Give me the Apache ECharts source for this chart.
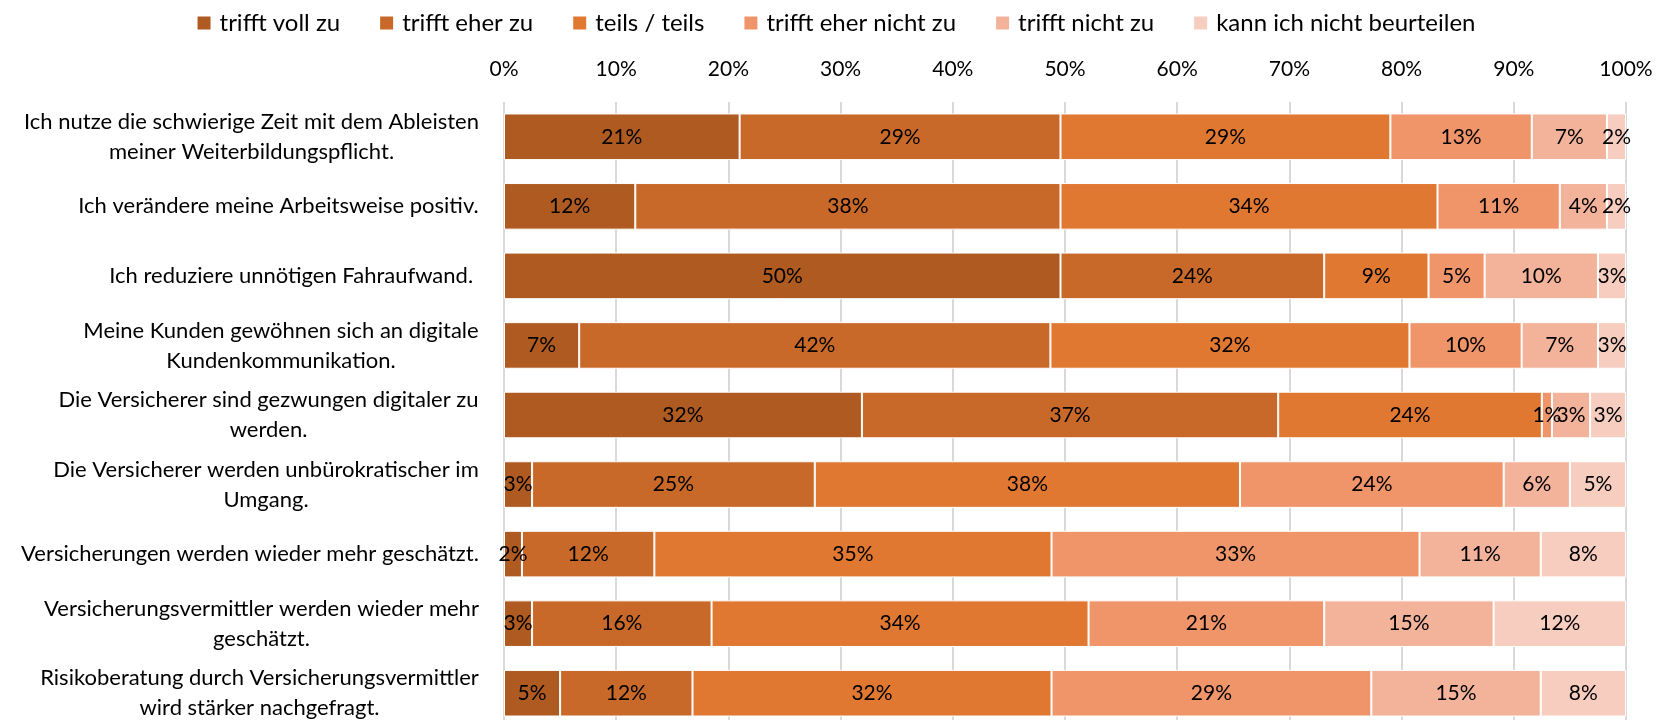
<!DOCTYPE html>
<html>
<head>
<meta charset="utf-8">
<script src="https://cdn.jsdelivr.net/npm/echarts@6/dist/echarts.min.js"></script>
<style>
  html, body { margin: 0; padding: 0; background: #fff; overflow: hidden; }
  #chart { width: 1671px; height: 740px; }
</style>
</head>
<body>
<div id="chart"></div>
<script>
const categories = [
  "Ich nutze die schwierige Zeit mit dem Ableisten\nmeiner Weiterbildungspflicht.",
  "Ich verändere meine Arbeitsweise positiv.",
  "Ich reduziere unnötigen Fahraufwand. ",
  "Meine Kunden gewöhnen sich an digitale\nKundenkommunikation.",
  "Die Versicherer sind gezwungen digitaler zu\nwerden.",
  "Die Versicherer werden unbürokratischer im\nUmgang.",
  "Versicherungen werden wieder mehr geschätzt.",
  "Versicherungsvermittler werden wieder mehr\ngeschätzt.",
  "Risikoberatung durch Versicherungsvermittler\nwird stärker nachgefragt."
];
const seriesNames = ["trifft voll zu", "trifft eher zu", "teils / teils", "trifft eher nicht zu", "trifft nicht zu", "kann ich nicht beurteilen"];
const trifftVollZu = [21.0, 11.7, 49.6, 6.7, 31.9, 2.5, 1.6, 2.5, 5.0];
const trifftEherZu = [28.6, 37.9, 23.5, 42.0, 37.1, 25.2, 11.8, 16.0, 11.8];
const teilsTeils = [29.4, 33.6, 9.3, 32.0, 23.5, 37.9, 35.4, 33.6, 32.0];
const trifftEherNichtZu = [12.6, 10.9, 5.0, 10.0, 0.9, 23.5, 32.8, 21.0, 28.5];
const trifftNichtZu = [6.7, 4.2, 10.1, 6.8, 3.4, 5.9, 10.8, 15.1, 15.1];
const kannNichtBeurteilen = [1.7, 1.7, 2.5, 2.5, 3.2, 5.0, 7.6, 11.8, 7.6];
const xTicks = [0, 10, 20, 30, 40, 50, 60, 70, 80, 90, 100];

const colors = ["#ae5a21", "#c8692a", "#e07832", "#f0946a", "#f3b39b", "#f7cdbf"];
const allValues = [trifftVollZu, trifftEherZu, teilsTeils, trifftEherNichtZu, trifftNichtZu, kannNichtBeurteilen];

const fontFamily = "Lato";
const labelSize = 22;

// multi-line category labels are centered inside a right-aligned block
const ctx = document.createElement("canvas").getContext("2d");
ctx.font = labelSize + "px " + fontFamily;
const rich = {};
categories.forEach((c, i) => {
  const w = Math.max(...c.split("\n").map(l => ctx.measureText(l).width));
  rich["c" + i] = {
    width: Math.ceil(w) + 2,
    align: "center",
    fontSize: labelSize,
    fontFamily: fontFamily,
    lineHeight: 30,
    color: "#000"
  };
});

const chart = echarts.init(document.getElementById("chart"));

chart.setOption({
  animation: false,
  color: colors,
  textStyle: { fontFamily: fontFamily },
  legend: {
    top: 6,
    left: "center",
    icon: "rect",
    itemWidth: 15,
    itemHeight: 15,
    itemGap: 38,
    textStyle: { fontSize: 24, color: "#000", fontFamily: fontFamily, padding: [0, 0, 0, 3] },
    data: seriesNames
  },
  grid: {
    left: 504,
    width: 1122,
    top: 102,
    height: 626,
    containLabel: false
  },
  xAxis: {
    type: "value",
    position: "top",
    min: xTicks[0],
    max: xTicks[xTicks.length - 1],
    interval: 10,
    axisLine: { show: false },
    axisTick: { show: false },
    axisLabel: {
      margin: 22,
      fontSize: 21,
      color: "#000",
      fontFamily: fontFamily,
      formatter: "{value}%"
    },
    splitLine: { lineStyle: { color: "#d9d9d9", width: 2 } }
  },
  yAxis: {
    type: "category",
    inverse: true,
    data: categories,
    axisLine: { show: false },
    axisTick: { show: false },
    axisLabel: {
      margin: 24,
      formatter: (value, index) =>
        value.split("\n").map(l => "{c" + index + "|" + l + "}").join("\n"),
      rich: rich
    }
  },
  series: seriesNames.map((name, k) => ({
    name: name,
    type: "bar",
    stack: "total",
    barCategoryGap: "33%",
    data: allValues[k],
    itemStyle: { borderColor: "#fff", borderWidth: 1 },
    label: {
      show: true,
      position: "inside",
      color: "#000",
      fontSize: 21,
      fontFamily: fontFamily,
      formatter: p => Math.round(p.value) + "%"
    }
  }))
});
</script>
</body>
</html>
